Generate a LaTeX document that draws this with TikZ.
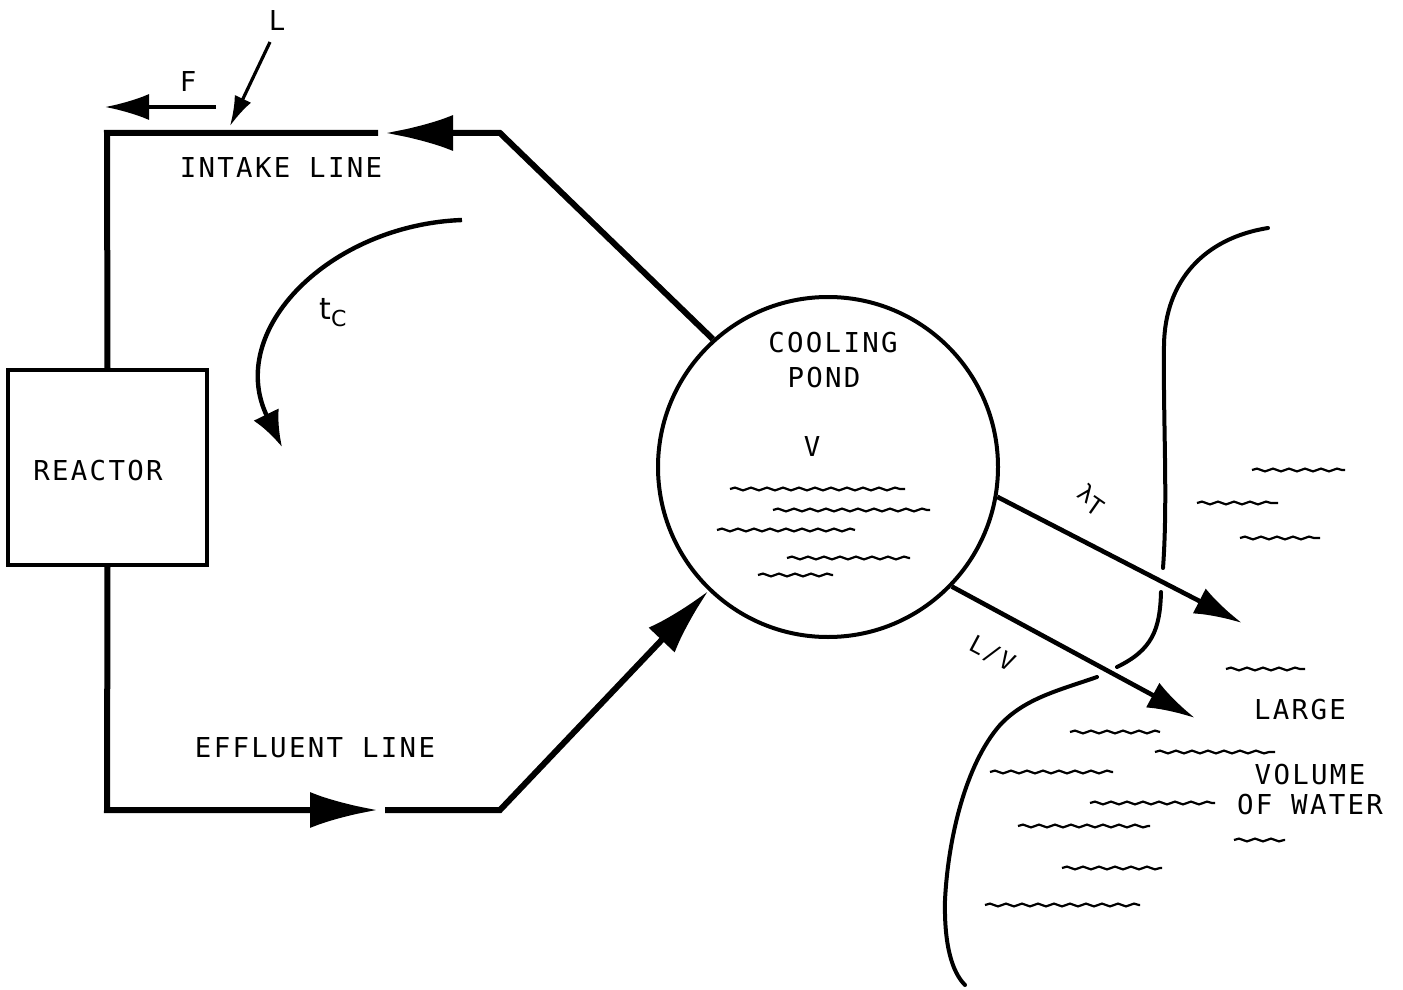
\documentclass[tikz,border=0pt]{standalone}
\usepackage{fontspec}
\setmainfont{DejaVu Sans}
\newfontfamily\tw[LetterSpace=8.5]{DejaVu Sans Mono}
\usetikzlibrary{arrows.meta,decorations.pathmorphing}
\tikzset{
  pipe/.style={line width=3pt},
  bighead/.style={-{Latex[length=34pt,width=18pt]}},
  flow/.style={line width=2.3pt,-{Latex[length=24pt,width=14pt]}},
  thin/.style={line width=1.6pt},
  shore/.style={line width=2pt, line cap=round},
  wave/.style={line width=1.1pt, decorate, decoration={snake, segment length=8pt, amplitude=0.7pt}},
  lbl/.style={font=\tw\fontsize{13.7}{17.5}\selectfont, inner sep=0},
  hand/.style={font=\tw\fontsize{12}{14}\selectfont, inner sep=0},
}
\begin{document}
\begin{tikzpicture}[x=0.5pt,y=-0.5pt]
\useasboundingbox (0,0) rectangle (1403,990);
% reactor
\node[draw, line width=1.6pt, minimum width=99.5pt, minimum height=97.5pt, inner sep=0] (reactor) at (107.5,467.5) {};
\node[lbl] (reactorlbl) at (98,471) {REACTOR};
% cooling pond
\node[draw, circle, line width=2pt, minimum size=170pt, inner sep=0] (pond) at (828,467) {};
\node[lbl] (cool) at (833,343) {COOLING};
\node[lbl] (pondlbl) at (824,378) {POND};
\node[lbl] (vlbl) at (812,447) {V};
% intake line
\coordinate (i1) at (107,133);
\coordinate (i2) at (378,133);
\coordinate (i3) at (385,133);
\coordinate (i4) at (500,133);
\draw[pipe] (reactor.north) -- (i1) -- (i2);
\draw[pipe, bighead] (pond.132) -- (i4) -- (i3);
\node[lbl] (intake) at (281,168) {INTAKE LINE};
% effluent line
\coordinate (e1) at (107,810);
\coordinate (e2) at (378,810);
\coordinate (e3) at (385,810);
\coordinate (e4) at (500,810);
\draw[pipe, bighead] (reactor.south) -- (e1) -- (e2);
\draw[pipe, bighead] (e3) -- (e4) -- (pond.226);
\node[lbl] (effluent) at (315,748) {EFFLUENT LINE};
% F and L
\coordinate (fs) at (216,107);
\coordinate (fe) at (105,107);
\draw[thin, -{Latex[length=22pt,width=13pt]}] (fs) -- (fe);
\node[lbl] (flbl) at (188,82) {F};
\coordinate (ls) at (270,42);
\coordinate (le) at (230,126);
\draw[thin, -{Latex[length=15pt,width=9pt]}] (ls) -- (le);
\node[lbl] (llbl) at (277,21) {L};
% tc arc
\coordinate (ts) at (462,220);
\coordinate (te) at (282,447);
\draw[line width=2.2pt, -{Latex[length=18pt,width=14pt]}] (ts) .. controls (330,225) and (225,330) .. (te);
\node[font=\fontsize{15}{17}\selectfont, inner sep=0] (tc) at (333,313) {t\raisebox{-3.5pt}{\fontsize{11}{12}\selectfont C}};
% outflows
\coordinate (lt) at (1242,623);
\coordinate (lv) at (1195,718);
\draw[flow] (pond.-10) -- (lt);
\draw[flow] (pond.-44) -- (lv);
\node[hand, rotate=-35] (lamT) at (1091,500) {λ\raisebox{-3pt}{T}};
\node[hand, rotate=-28] (lvlbl) at (992,654) {L/V};
% shores
\draw[shore] (1268,228) .. controls (1205,238) and (1165,280) .. (1164,345) .. controls (1163,420) and (1168,500) .. (1163,568);
\draw[shore] (1161,592) .. controls (1160,630) and (1152,650) .. (1117,667);
\draw[shore] (1097,677) .. controls (1060,690) and (1025,698) .. (1000,725) .. controls (965,765) and (948,840) .. (945,900) .. controls (944,945) and (952,972) .. (965,985);
% waves in pond
\foreach \a/\b/\y in {730/905/489, 773/930/510, 717/855/530, 787/910/558, 758/833/575}
  \draw[wave] (\a,\y) -- (\b,\y);
% waves in large volume
\foreach \a/\b/\y in {1252/1345/470, 1197/1278/503, 1240/1320/538, 1226/1305/669, 1070/1160/732, 1155/1275/752, 990/1113/772, 1090/1215/803, 1018/1150/826, 1234/1285/840, 1062/1162/868, 985/1140/905}
  \draw[wave] (\a,\y) -- (\b,\y);
\node[lbl] (large) at (1300,710) {LARGE};
\node[lbl] (volume) at (1310,775) {VOLUME};
\node[lbl] (water) at (1310,805) {OF WATER};
\end{tikzpicture}
\end{document}
